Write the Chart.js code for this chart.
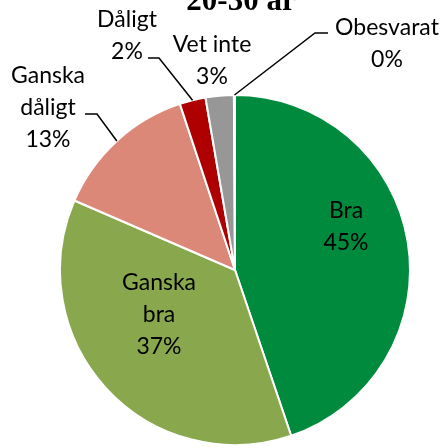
<!DOCTYPE html>
<html>
<head>
<meta charset="utf-8">
<script src="https://cdn.jsdelivr.net/npm/chart.js@4"></script>
<style>
    html, body { margin: 0; padding: 0; background: #ffffff; }
    #wrap { width: 445px; height: 448px; position: relative; }
</style>
</head>
<body>
<div id="wrap"><canvas id="grafico"></canvas></div>
<script>
var kategorier = ['Bra', 'Ganska bra', 'Ganska dåligt', 'Dåligt', 'Vet inte', 'Obesvarat'];
var andelar = [44.8, 36.7, 13.4, 2.4, 2.6, 0.1];
var farger = ['#008a3e', '#89a84d', '#dc8878', '#ae0000', '#979797', '#4472c4'];
var rubrik = '20-30 år';

// etikettlayout: rader, textcentrum (x, y forsta raden), ev. knick for ledarlinje
var etiketter = [
    { rader: ['Bra'], x: 346, y: 211 },
    { rader: ['Ganska', 'bra'], x: 159, y: 283 },
    { rader: ['Ganska', 'dåligt'], x: 48, y: 76, linje: [[97, 114], [85, 114]] },
    { rader: ['Dåligt'], x: 127, y: 20, linje: [[159, 58], [148, 58]] },
    { rader: ['Vet inte'], x: 212, y: 45 },
    { rader: ['Obesvarat'], x: 387, y: 28, linje: [[315, 33], [328, 33]] }
];

var etikettPlugin = {
    id: 'etiketter',
    afterDatasetsDraw(chart) {
        var ctx = chart.ctx;
        var meta = chart.getDatasetMeta(0);
        var summa = andelar.reduce((a, b) => a + b, 0);
        ctx.save();
        ctx.fillStyle = '#000';
        ctx.textAlign = 'center';
        ctx.textBaseline = 'middle';
        ctx.font = '23px Lato';
        var radhojd = 32;
        etiketter.forEach((e, i) => {
            var rader = e.rader.concat([Math.round(andelar[i] / summa * 100) + '%']);
            rader.forEach((r, j) => ctx.fillText(r, e.x, e.y + j * radhojd));
            if (e.linje) {
                var arc = meta.data[i];
                var mitt = (arc.startAngle + arc.endAngle) / 2;
                var px = arc.x + Math.cos(mitt) * arc.outerRadius;
                var py = arc.y + Math.sin(mitt) * arc.outerRadius;
                ctx.strokeStyle = '#000';
                ctx.lineWidth = 1.5;
                ctx.beginPath();
                ctx.moveTo(px, py);
                ctx.lineTo(e.linje[0][0], e.linje[0][1]);
                ctx.lineTo(e.linje[1][0], e.linje[1][1]);
                ctx.stroke();
            }
        });
        ctx.font = 'bold 31px "Liberation Serif"';
        ctx.textBaseline = 'alphabetic';
        ctx.fillText(rubrik, 241, 10);
        ctx.restore();
    }
};

var ctx = document.getElementById('grafico').getContext('2d');
new Chart(ctx, {
    type: 'pie',
    data: {
        labels: kategorier,
        datasets: [{
            data: andelar,
            backgroundColor: farger,
            borderColor: '#ffffff',
            borderWidth: 2
        }]
    },
    options: {
        responsive: true,
        maintainAspectRatio: false,
        animation: false,
        layout: {
            padding: { top: 94, bottom: 2, left: 59, right: 34 }
        },
        plugins: {
            legend: { display: false },
            tooltip: { enabled: false }
        }
    },
    plugins: [etikettPlugin]
});
</script>
</body>
</html>
